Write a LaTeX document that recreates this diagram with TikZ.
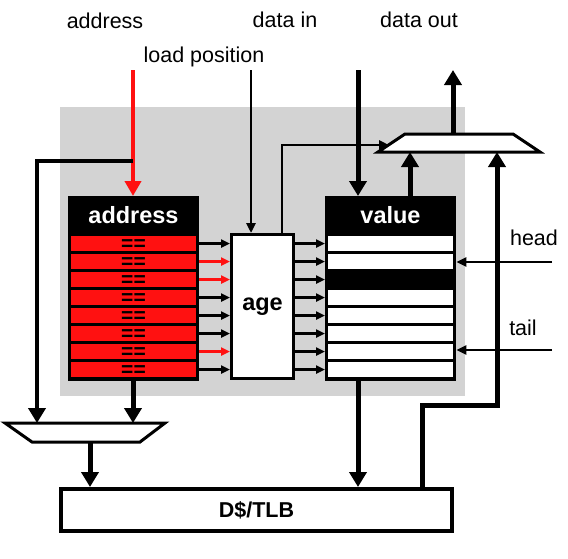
\documentclass[tikz,border=0pt]{standalone}
\usepackage{fontspec}
\setmainfont{Liberation Sans}
\usetikzlibrary{arrows.meta}
\definecolor{panelgray}{RGB}{211,211,211}
\definecolor{rowred}{RGB}{255,17,17}
\tikzset{
  bigarrow/.style={line width=5pt,-{Triangle[width=17pt,length=15pt]}},
  redarrow/.style={line width=4pt,color=rowred,-{Triangle[width=16pt,length=15pt]}},
  thinarrow/.style={line width=2.5pt,-{Triangle[width=9pt,length=10pt]}},
  rowarrow/.style={line width=2.5pt,-{Triangle[width=8pt,length=9pt]}},
  lbl/.style={font=\fontsize{21.5}{24}\selectfont, inner sep=0},
  hdr/.style={font=\fontsize{23.5}{26}\selectfont\bfseries, text=white, inner sep=0},
  blk/.style={fill=black, inner sep=0, anchor=north west},
  arow/.style={fill=rowred, inner sep=0, minimum width=125pt, minimum height=15pt},
  vrow/.style={fill=white, inner sep=0, minimum width=125pt, minimum height=15pt},
  eqtxt/.style={font=\fontsize{21}{21}\selectfont\bfseries, inner sep=0, outer sep=0, anchor=base},
  muxshape/.style={line width=3pt, fill=white, line join=miter},
}
\begin{document}
\begin{tikzpicture}[x=1pt,y=-1pt]
\useasboundingbox (0,0) rectangle (568,558);
% panel
\fill[panelgray] (60,107) rectangle (465,396);

% top labels
\node[lbl] (tAddr) at (105,21) {address};
\node[lbl] (tLoad) at (204,57) {load position};
\node[lbl] (tDin) at (285,20) {data in};
\node[lbl] (tDout) at (419,20) {data out};
\node[lbl] (tHead) at (534,238) {head};
\node[lbl] (tTail) at (523,328) {tail};

% address block
\node[blk, minimum width=131pt, minimum height=185pt] (addr) at (68,196) {};
\node[hdr] (addrH) at (133.5,215.5) {address};
\foreach \i in {0,...,7}{
  \node[arow] (ar\i) at (133.5,{243.5+18*\i}) {};
  \node[eqtxt] (eq\i) at (133.5,{243.5+18*\i+7}) {==};
}

% value block
\node[blk, minimum width=131pt, minimum height=185pt] (val) at (325,196) {};
\node[hdr] (valH) at (390.5,215.5) {value};
\foreach \i in {0,1,3,4,5,6,7}{
  \node[vrow] (vr\i) at (390.5,{243.5+18*\i}) {};
}
\node[vrow, fill=black] (vr2) at (390.5,279.5) {};

% age box
\node[draw, line width=3pt, fill=white, inner sep=0, minimum width=62pt, minimum height=144pt,
      font=\fontsize{23.5}{26}\selectfont\bfseries] (age) at (262.5,306.5) {age};

% D$/TLB box
\node[draw, line width=4pt, fill=white, inner sep=0, minimum width=391pt, minimum height=42pt,
      font=\fontsize{21.5}{24}\selectfont\bfseries] (dtlb) at (256.5,510) {D\$/TLB};

% muxes
\draw[muxshape] (5,423) -- (165,423) -- (140,442) -- (32,442) -- cycle;
\draw[muxshape] (378,152) -- (405,134) -- (513,134) -- (540,152) -- cycle;
\coordinate (lmA) at (37,423);
\coordinate (lmB) at (133,423);
\coordinate (lmOut) at (90,442);
\coordinate (omA) at (410,152);
\coordinate (omB) at (497,152);
\coordinate (omOut) at (453,134);
\coordinate (omSel) at (389,145);

% free ends
\coordinate (addrIn) at (133,70);
\coordinate (loadIn) at (251,70);
\coordinate (dataIn) at (358,70);
\coordinate (dataOut) at (453,70);
\coordinate (headIn) at (552,262);
\coordinate (tailIn) at (552,350);
\coordinate (tapA) at (133,161);

% connectors
\draw[redarrow] (addrIn) -- (addr.north -| addrIn);
\draw[line width=4.5pt, -{Triangle[width=17pt,length=15pt]}] (tapA) -- (37,161) -- (lmA);
\draw[bigarrow] (addr.south -| lmB) -- (lmB);
\draw[bigarrow] (lmOut) -- (dtlb.north -| lmOut);
\draw[bigarrow] (val.south -| dataIn) -- (dtlb.north -| dataIn);
\draw[line width=5pt, -{Triangle[width=17pt,length=15pt]}] (422,487) -- (422,405) -- (497,405) -- (omB);
\draw[bigarrow] (val.north -| omA) -- (omA);
\draw[bigarrow] (omOut) -- (dataOut);
\draw[bigarrow] (dataIn) -- (val.north -| dataIn);
\draw[thinarrow] (loadIn) -- (age.north -| loadIn);
\draw[line width=2.5pt, -{Triangle[width=9pt,length=10pt]}] (age.north -| 282,0) -- (282,145) -- (omSel);
\draw[thinarrow] (headIn) -- (val.east |- headIn);
\draw[thinarrow] (tailIn) -- (val.east |- tailIn);

% row arrows
\foreach \i/\c in {0/black,1/rowred,2/rowred,3/black,4/black,5/black,6/rowred,7/black}{
  \draw[rowarrow, color=\c] (addr.east |- ar\i) -- (age.west |- ar\i);
  \draw[rowarrow] (age.east |- ar\i) -- (val.west |- ar\i);
}
\end{tikzpicture}
\end{document}
